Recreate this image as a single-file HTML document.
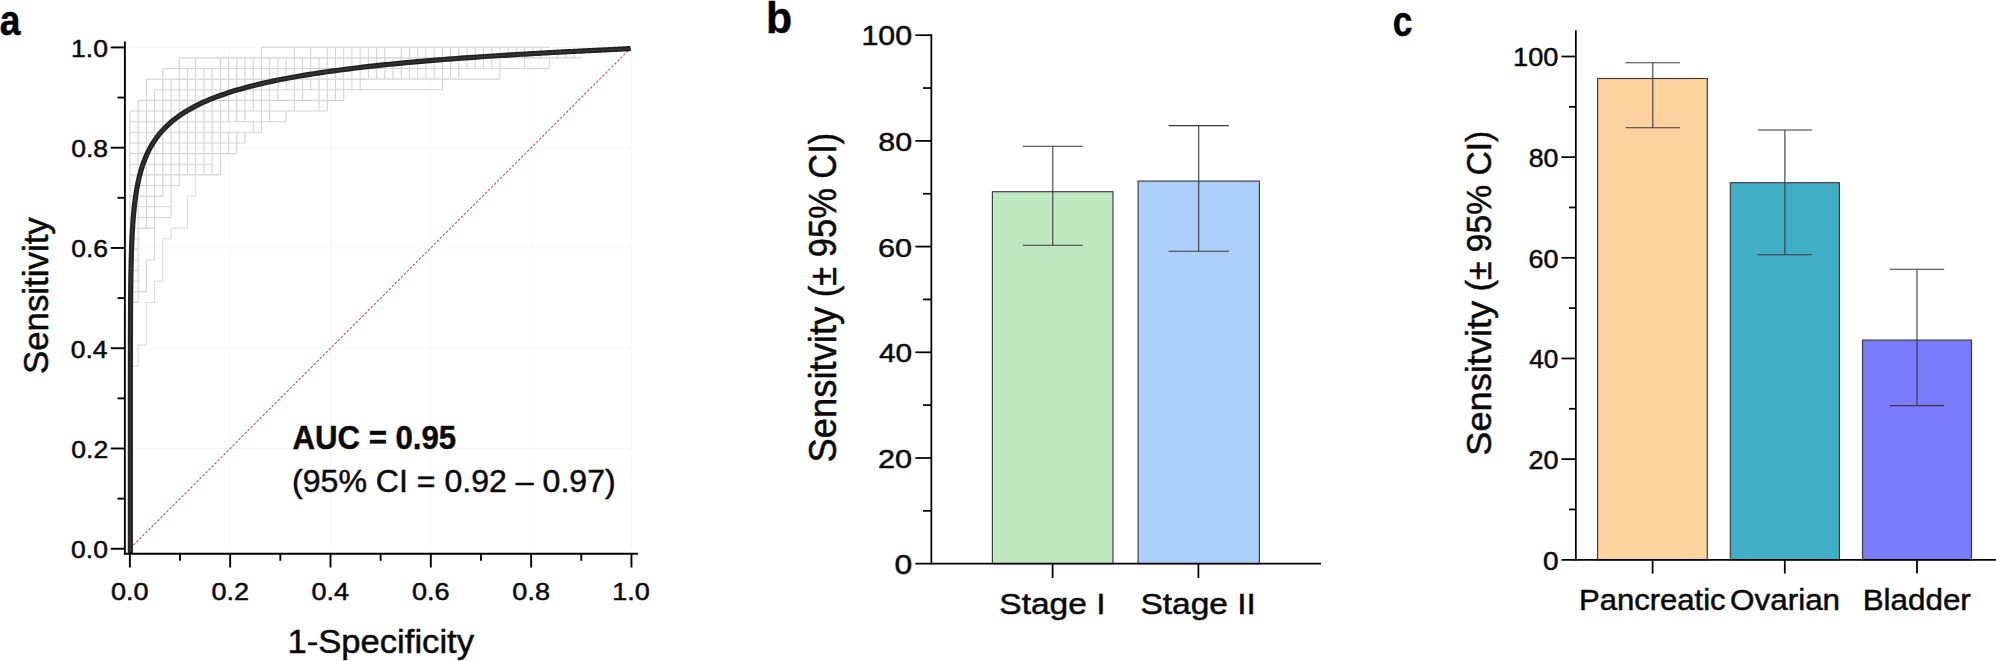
<!DOCTYPE html>
<html><head><meta charset="utf-8"><title>Figure</title>
<style>
html,body{margin:0;padding:0;background:#fff;}
body{width:1996px;height:661px;overflow:hidden;}
svg{display:block;font-family:"Liberation Sans",Arial,sans-serif;}
</style></head><body>
<svg width="1996" height="661" viewBox="0 0 1996 661">
<rect width="1996" height="661" fill="#fff"/>
<g stroke="#f7f7f7" stroke-width="1">
<line x1="230.17" y1="548.75" x2="230.17" y2="47.42" stroke="#f7f7f7" stroke-width="1" />
<line x1="129.85" y1="448.48" x2="631.45" y2="448.48" stroke="#f7f7f7" stroke-width="1" />
<line x1="330.49" y1="548.75" x2="330.49" y2="47.42" stroke="#f7f7f7" stroke-width="1" />
<line x1="129.85" y1="348.22" x2="631.45" y2="348.22" stroke="#f7f7f7" stroke-width="1" />
<line x1="430.81" y1="548.75" x2="430.81" y2="47.42" stroke="#f7f7f7" stroke-width="1" />
<line x1="129.85" y1="247.95" x2="631.45" y2="247.95" stroke="#f7f7f7" stroke-width="1" />
<line x1="531.13" y1="548.75" x2="531.13" y2="47.42" stroke="#f7f7f7" stroke-width="1" />
<line x1="129.85" y1="147.69" x2="631.45" y2="147.69" stroke="#f7f7f7" stroke-width="1" />
<line x1="631.45" y1="548.75" x2="631.45" y2="47.42" stroke="#f7f7f7" stroke-width="1" />
<line x1="129.85" y1="47.42" x2="631.45" y2="47.42" stroke="#f7f7f7" stroke-width="1" />
</g>
<path d="M129.90 547.28L129.90 366.40L138.12 366.40L138.12 345.12L146.35 345.12L146.35 302.56L154.57 302.56L154.57 281.28L162.79 281.28L162.79 238.72L171.02 238.72L171.02 228.08L187.46 228.08L187.46 196.16L195.68 196.16L195.68 174.88" fill="none" stroke="#dedede" stroke-width="1.1"/>
<path d="M261.47 47.20L549.27 47.20M179.24 57.84L582.17 57.84M162.79 68.48L549.27 68.48M146.35 79.12L499.94 79.12M154.57 89.76L442.37 89.76M138.12 100.40L343.70 100.40M129.90 111.04L327.25 111.04M129.90 121.68L286.14 121.68M129.90 132.32L261.47 132.32M129.90 142.96L245.02 142.96M129.90 153.60L236.80 153.60M129.90 164.24L212.13 164.24M129.90 174.88L220.35 174.88M129.90 185.52L179.24 185.52M129.90 196.16L162.79 196.16M129.90 206.80L171.02 206.80M129.90 217.44L171.02 217.44M129.90 228.08L154.57 228.08M129.90 238.72L138.12 238.72M129.90 249.36L138.12 249.36M129.90 260.00L138.12 260.00M146.35 260.00L154.57 260.00M129.90 270.64L138.12 270.64M129.90 281.28L138.12 281.28M129.90 291.92L146.35 291.92M129.90 302.56L138.12 302.56M129.90 111.04L129.90 547.28M138.12 100.40L138.12 302.56M146.35 79.12L146.35 228.08M146.35 260.00L146.35 291.92M154.57 89.76L154.57 260.00M162.79 68.48L162.79 196.16M171.02 79.12L171.02 217.44M179.24 57.84L179.24 185.52M187.46 68.48L187.46 174.88M195.68 57.84L195.68 174.88M203.91 68.48L203.91 174.88M212.13 68.48L212.13 174.88M220.35 57.84L220.35 174.88M228.58 57.84L228.58 121.68M228.58 132.32L228.58 153.60M236.80 57.84L236.80 121.68M236.80 132.32L236.80 153.60M245.02 57.84L245.02 121.68M245.02 132.32L245.02 142.96M253.25 57.84L253.25 111.04M253.25 121.68L253.25 132.32M261.47 47.20L261.47 132.32M269.69 57.84L269.69 121.68M277.91 57.84L277.91 100.40M286.14 57.84L286.14 89.76M286.14 111.04L286.14 121.68M294.36 47.20L294.36 111.04M302.58 57.84L302.58 100.40M310.81 47.20L310.81 89.76M319.03 57.84L319.03 111.04M327.25 47.20L327.25 111.04M335.48 47.20L335.48 100.40M343.70 47.20L343.70 100.40M351.92 47.20L351.92 89.76M360.14 47.20L360.14 89.76M368.37 47.20L368.37 79.12M376.59 47.20L376.59 79.12M384.81 47.20L384.81 79.12M393.04 57.84L393.04 79.12M401.26 47.20L401.26 79.12M409.48 47.20L409.48 79.12M417.71 47.20L417.71 79.12M425.93 47.20L425.93 79.12M434.15 47.20L434.15 79.12M442.37 47.20L442.37 89.76M450.60 47.20L450.60 79.12M458.82 47.20L458.82 79.12M467.04 47.20L467.04 68.48M475.27 47.20L475.27 68.48M483.49 47.20L483.49 68.48M491.71 47.20L491.71 68.48M499.94 47.20L499.94 79.12M508.16 47.20L508.16 57.84M516.38 47.20L516.38 57.84M524.60 47.20L524.60 68.48M532.83 47.20L532.83 57.84M541.05 47.20L541.05 57.84M549.27 57.84L549.27 68.48M557.50 47.20L557.50 57.84M565.72 47.20L565.72 57.84M573.94 47.20L573.94 57.84" fill="none" stroke="#d4d4d4" stroke-width="1.1"/>
<line x1="130.45" y1="548.15" x2="629.95" y2="48.92" stroke="#d2425f" stroke-width="1.05" stroke-dasharray="2.5 1.75"/>
<path d="M130.35 553.60L130.35 531.20L130.35 530.70L130.35 530.19L130.35 529.66L130.35 529.13L130.35 528.58L130.35 528.02L130.35 527.45L130.35 526.86L130.35 526.26L130.35 525.65L130.35 525.02L130.35 524.39L130.35 523.73L130.35 523.07L130.35 522.39L130.35 521.69L130.35 520.99L130.35 520.26L130.35 519.52L130.35 518.77L130.35 518.00L130.35 517.22L130.35 516.42L130.35 515.61L130.35 514.78L130.35 513.93L130.35 513.07L130.35 512.19L130.35 511.29L130.35 510.38L130.35 509.45L130.35 508.51L130.35 507.55L130.35 506.57L130.35 505.57L130.35 504.56L130.35 503.52L130.35 502.47L130.35 501.40L130.35 500.32L130.35 499.21L130.35 498.09L130.35 496.95L130.35 495.79L130.35 494.61L130.35 493.42L130.35 492.20L130.35 490.97L130.35 489.71L130.35 488.44L130.35 487.15L130.35 485.84L130.35 484.51L130.35 483.16L130.35 481.79L130.35 480.40L130.35 478.99L130.35 477.56L130.35 476.11L130.35 474.64L130.35 473.16L130.35 471.65L130.35 470.12L130.35 468.58L130.35 467.01L130.35 465.42L130.35 463.82L130.35 462.19L130.35 460.55L130.35 458.88L130.35 457.20L130.35 455.49L130.35 453.77L130.35 452.03L130.35 450.27L130.35 448.48L130.35 446.68L130.35 444.86L130.35 443.02L130.35 441.17L130.35 439.29L130.35 437.39L130.35 435.48L130.35 433.55L130.35 431.60L130.35 429.63L130.35 427.64L130.35 425.63L130.35 423.61L130.35 421.57L130.35 419.51L130.35 417.44L130.35 415.35L130.35 413.24L130.35 411.12L130.35 408.98L130.35 406.82L130.36 404.65L130.36 402.46L130.36 400.25L130.36 398.03L130.36 395.80L130.36 393.55L130.36 391.29L130.36 389.01L130.36 386.72L130.36 384.42L130.36 382.10L130.36 379.78L130.37 377.43L130.37 375.08L130.37 372.71L130.37 370.34L130.37 367.95L130.38 365.55L130.38 363.14L130.38 360.72L130.38 358.29L130.39 355.85L130.39 353.40L130.40 350.94L130.40 348.48L130.41 346.00L130.41 343.52L130.42 341.03L130.42 338.54L130.43 336.04L130.44 333.53L130.44 331.02L130.45 328.50L130.46 325.97L130.47 323.45L130.48 320.91L130.49 318.38L130.51 315.84L130.52 313.30L130.53 310.75L130.55 308.21L130.57 305.66L130.59 303.11L130.61 300.56L130.63 298.01L130.65 295.46L130.68 292.91L130.70 290.37L130.73 287.82L130.76 285.27L130.80 282.73L130.83 280.19L130.87 277.65L130.91 275.12L130.96 272.59L131.00 270.06L131.05 267.54L131.11 265.02L131.17 262.51L131.23 260.01L131.30 257.51L131.37 255.02L131.44 252.53L131.52 250.05L131.61 247.58L131.70 245.12L131.80 242.67L131.90 240.22L132.02 237.79L132.13 235.36L132.26 232.94L132.39 230.54L132.54 228.14L132.69 225.76L132.85 223.39L133.02 221.03L133.20 218.68L133.39 216.34L133.59 214.02L133.80 211.70L134.03 209.41L134.27 207.12L134.52 204.85L134.78 202.59L135.06 200.35L135.36 198.13L135.67 195.91L136.00 193.72L136.35 191.53L136.72 189.37L137.10 187.22L137.51 185.08L137.93 182.96L138.38 180.86L138.85 178.78L139.34 176.71L139.86 174.66L140.40 172.63L140.97 170.61L141.56 168.62L142.18 166.64L142.84 164.67L143.52 162.73L144.23 160.81L144.97 158.90L145.75 157.01L146.56 155.14L147.40 153.29L148.29 151.46L149.20 149.65L150.16 147.85L151.15 146.08L152.19 144.33L153.27 142.59L154.39 140.88L155.55 139.18L156.75 137.50L158.01 135.85L159.30 134.21L160.65 132.59L162.04 130.99L163.49 129.42L164.98 127.86L166.53 126.32L168.12 124.80L169.77 123.30L171.48 121.82L173.24 120.36L175.05 118.92L176.93 117.50L178.86 116.10L180.84 114.72L182.89 113.36L185.00 112.02L187.16 110.69L189.39 109.39L191.68 108.11L194.02 106.84L196.44 105.60L198.91 104.37L201.44 103.16L204.04 101.97L206.70 100.80L209.43 99.65L212.21 98.52L215.06 97.40L217.98 96.30L220.95 95.23L223.99 94.17L227.09 93.12L230.26 92.10L233.48 91.09L236.77 90.10L240.11 89.13L243.52 88.17L246.98 87.23L250.50 86.31L254.08 85.41L257.72 84.52L261.41 83.65L265.15 82.79L268.95 81.95L272.80 81.13L276.70 80.32L280.65 79.53L284.65 78.75L288.69 77.99L292.78 77.24L296.91 76.51L301.08 75.79L305.29 75.09L309.54 74.40L313.82 73.73L318.14 73.07L322.49 72.42L326.86 71.79L331.27 71.17L335.70 70.56L340.15 69.97L344.63 69.39L349.12 68.82L353.63 68.26L358.15 67.72L362.69 67.19L367.23 66.67L371.78 66.16L376.34 65.67L380.90 65.18L385.46 64.71L390.02 64.25L394.57 63.80L399.11 63.36L403.65 62.93L408.17 62.51L412.68 62.10L417.17 61.70L421.65 61.31L426.10 60.93L430.53 60.55L434.94 60.19L439.31 59.84L443.66 59.50L447.98 59.16L452.26 58.83L456.51 58.51L460.72 58.20L464.89 57.90L469.02 57.61L473.11 57.32L477.15 57.04L481.15 56.77L485.10 56.51L489.00 56.25L492.85 56.00L496.65 55.76L500.39 55.52L504.08 55.29L507.72 55.06L511.30 54.85L514.82 54.64L518.28 54.43L521.69 54.23L525.03 54.04L528.32 53.85L531.54 53.66L534.71 53.49L537.81 53.31L540.85 53.15L543.82 52.98L546.74 52.83L549.59 52.67L552.37 52.52L555.10 52.38L557.76 52.24L560.36 52.11L562.89 51.97L565.36 51.85L567.78 51.72L570.12 51.60L572.41 51.49L574.64 51.38L576.80 51.27L578.91 51.16L580.96 51.06L582.94 50.96L584.87 50.87L586.75 50.77L588.56 50.68L590.32 50.60L592.03 50.51L593.68 50.43L595.27 50.36L596.82 50.28L598.31 50.21L599.76 50.14L601.15 50.07L602.50 50.00L603.79 49.94L605.05 49.88L606.25 49.82L607.41 49.76L608.53 49.70L609.61 49.65L610.65 49.60L611.64 49.55L612.60 49.50L613.51 49.46L614.40 49.41L615.24 49.37L616.05 49.33L616.83 49.29L617.57 49.25L618.28 49.21L618.96 49.18L619.62 49.14L620.24 49.11L620.83 49.08L621.40 49.04L621.94 49.02L622.46 48.99L622.95 48.96L623.42 48.93L623.87 48.91L624.29 48.88L624.70 48.86L625.08 48.84L625.45 48.82L625.80 48.79L626.13 48.77L626.44 48.75L626.74 48.74L627.02 48.72L627.28 48.70L627.53 48.68L627.77 48.67L628.00 48.65L628.21 48.64L628.41 48.63L628.60 48.61L628.78 48.60L628.95 48.59L629.11 48.58L630.60 48.30" fill="none" stroke="#222" stroke-width="5.2" stroke-linejoin="round"/>
<path d="M130.35 553.60L130.35 531.20L130.35 530.70L130.35 530.19L130.35 529.66L130.35 529.13L130.35 528.58L130.35 528.02L130.35 527.45L130.35 526.86L130.35 526.26L130.35 525.65L130.35 525.02L130.35 524.39L130.35 523.73L130.35 523.07L130.35 522.39L130.35 521.69L130.35 520.99L130.35 520.26L130.35 519.52L130.35 518.77L130.35 518.00L130.35 517.22L130.35 516.42L130.35 515.61L130.35 514.78L130.35 513.93L130.35 513.07L130.35 512.19L130.35 511.29L130.35 510.38L130.35 509.45L130.35 508.51L130.35 507.55L130.35 506.57L130.35 505.57L130.35 504.56L130.35 503.52L130.35 502.47L130.35 501.40L130.35 500.32L130.35 499.21L130.35 498.09L130.35 496.95L130.35 495.79L130.35 494.61L130.35 493.42L130.35 492.20L130.35 490.97L130.35 489.71L130.35 488.44L130.35 487.15L130.35 485.84L130.35 484.51L130.35 483.16L130.35 481.79L130.35 480.40L130.35 478.99L130.35 477.56L130.35 476.11L130.35 474.64L130.35 473.16L130.35 471.65L130.35 470.12L130.35 468.58L130.35 467.01L130.35 465.42L130.35 463.82L130.35 462.19L130.35 460.55L130.35 458.88L130.35 457.20L130.35 455.49L130.35 453.77L130.35 452.03L130.35 450.27L130.35 448.48L130.35 446.68L130.35 444.86L130.35 443.02L130.35 441.17L130.35 439.29L130.35 437.39L130.35 435.48L130.35 433.55L130.35 431.60L130.35 429.63L130.35 427.64L130.35 425.63L130.35 423.61L130.35 421.57L130.35 419.51L130.35 417.44L130.35 415.35L130.35 413.24L130.35 411.12L130.35 408.98L130.35 406.82L130.36 404.65L130.36 402.46L130.36 400.25L130.36 398.03L130.36 395.80L130.36 393.55L130.36 391.29L130.36 389.01L130.36 386.72L130.36 384.42L130.36 382.10L130.36 379.78L130.37 377.43L130.37 375.08L130.37 372.71L130.37 370.34L130.37 367.95L130.38 365.55L130.38 363.14L130.38 360.72L130.38 358.29L130.39 355.85L130.39 353.40L130.40 350.94L130.40 348.48L130.41 346.00L130.41 343.52L130.42 341.03L130.42 338.54L130.43 336.04L130.44 333.53L130.44 331.02L130.45 328.50L130.46 325.97L130.47 323.45L130.48 320.91L130.49 318.38L130.51 315.84L130.52 313.30L130.53 310.75L130.55 308.21L130.57 305.66L130.59 303.11L130.61 300.56L130.63 298.01L130.65 295.46L130.68 292.91L130.70 290.37L130.73 287.82L130.76 285.27L130.80 282.73L130.83 280.19L130.87 277.65L130.91 275.12L130.96 272.59L131.00 270.06L131.05 267.54L131.11 265.02L131.17 262.51L131.23 260.01L131.30 257.51L131.37 255.02L131.44 252.53L131.52 250.05L131.61 247.58L131.70 245.12L131.80 242.67L131.90 240.22L132.02 237.79L132.13 235.36L132.26 232.94L132.39 230.54L132.54 228.14L132.69 225.76L132.85 223.39L133.02 221.03L133.20 218.68L133.39 216.34L133.59 214.02L133.80 211.70L134.03 209.41L134.27 207.12L134.52 204.85L134.78 202.59L135.06 200.35L135.36 198.13L135.67 195.91L136.00 193.72L136.35 191.53L136.72 189.37L137.10 187.22L137.51 185.08L137.93 182.96L138.38 180.86L138.85 178.78L139.34 176.71L139.86 174.66L140.40 172.63L140.97 170.61L141.56 168.62L142.18 166.64L142.84 164.67L143.52 162.73L144.23 160.81L144.97 158.90L145.75 157.01L146.56 155.14L147.40 153.29L148.29 151.46L149.20 149.65L150.16 147.85L151.15 146.08L152.19 144.33L153.27 142.59L154.39 140.88L155.55 139.18L156.75 137.50L158.01 135.85L159.30 134.21L160.65 132.59L162.04 130.99L163.49 129.42L164.98 127.86L166.53 126.32L168.12 124.80L169.77 123.30L171.48 121.82L173.24 120.36L175.05 118.92L176.93 117.50L178.86 116.10L180.84 114.72L182.89 113.36L185.00 112.02L187.16 110.69L189.39 109.39L191.68 108.11L194.02 106.84L196.44 105.60L198.91 104.37L201.44 103.16L204.04 101.97L206.70 100.80L209.43 99.65L212.21 98.52L215.06 97.40L217.98 96.30L220.95 95.23L223.99 94.17L227.09 93.12L230.26 92.10L233.48 91.09L236.77 90.10L240.11 89.13L243.52 88.17L246.98 87.23L250.50 86.31L254.08 85.41L257.72 84.52L261.41 83.65L265.15 82.79L268.95 81.95L272.80 81.13L276.70 80.32L280.65 79.53L284.65 78.75L288.69 77.99L292.78 77.24L296.91 76.51L301.08 75.79L305.29 75.09L309.54 74.40L313.82 73.73L318.14 73.07L322.49 72.42L326.86 71.79L331.27 71.17L335.70 70.56L340.15 69.97L344.63 69.39L349.12 68.82L353.63 68.26L358.15 67.72L362.69 67.19L367.23 66.67L371.78 66.16L376.34 65.67L380.90 65.18L385.46 64.71L390.02 64.25L394.57 63.80L399.11 63.36L403.65 62.93L408.17 62.51L412.68 62.10L417.17 61.70L421.65 61.31L426.10 60.93L430.53 60.55L434.94 60.19L439.31 59.84L443.66 59.50L447.98 59.16L452.26 58.83L456.51 58.51L460.72 58.20L464.89 57.90L469.02 57.61L473.11 57.32L477.15 57.04L481.15 56.77L485.10 56.51L489.00 56.25L492.85 56.00L496.65 55.76L500.39 55.52L504.08 55.29L507.72 55.06L511.30 54.85L514.82 54.64L518.28 54.43L521.69 54.23L525.03 54.04L528.32 53.85L531.54 53.66L534.71 53.49L537.81 53.31L540.85 53.15L543.82 52.98L546.74 52.83L549.59 52.67L552.37 52.52L555.10 52.38L557.76 52.24L560.36 52.11L562.89 51.97L565.36 51.85L567.78 51.72L570.12 51.60L572.41 51.49L574.64 51.38L576.80 51.27L578.91 51.16L580.96 51.06L582.94 50.96L584.87 50.87L586.75 50.77L588.56 50.68L590.32 50.60L592.03 50.51L593.68 50.43L595.27 50.36L596.82 50.28L598.31 50.21L599.76 50.14L601.15 50.07L602.50 50.00L603.79 49.94L605.05 49.88L606.25 49.82L607.41 49.76L608.53 49.70L609.61 49.65L610.65 49.60L611.64 49.55L612.60 49.50L613.51 49.46L614.40 49.41L615.24 49.37L616.05 49.33L616.83 49.29L617.57 49.25L618.28 49.21L618.96 49.18L619.62 49.14L620.24 49.11L620.83 49.08L621.40 49.04L621.94 49.02L622.46 48.99L622.95 48.96L623.42 48.93L623.87 48.91L624.29 48.88L624.70 48.86L625.08 48.84L625.45 48.82L625.80 48.79L626.13 48.77L626.44 48.75L626.74 48.74L627.02 48.72L627.28 48.70L627.53 48.68L627.77 48.67L628.00 48.65L628.21 48.64L628.41 48.63L628.60 48.61L628.78 48.60L628.95 48.59L629.11 48.58L630.60 48.30" fill="none" stroke="#363636" stroke-width="1.5" stroke-linejoin="round"/>
<line x1="124.87" y1="41.40" x2="124.87" y2="554.70" stroke="#000" stroke-width="1.9" />
<line x1="123.95" y1="553.72" x2="637.90" y2="553.72" stroke="#000" stroke-width="1.9" />
<line x1="110.80" y1="548.75" x2="124.87" y2="548.75" stroke="#000" stroke-width="1.9" />
<line x1="129.85" y1="553.72" x2="129.85" y2="567.50" stroke="#000" stroke-width="1.9" />
<line x1="117.50" y1="498.62" x2="124.87" y2="498.62" stroke="#000" stroke-width="1.9" />
<line x1="180.01" y1="553.72" x2="180.01" y2="560.80" stroke="#000" stroke-width="1.9" />
<line x1="110.80" y1="448.48" x2="124.87" y2="448.48" stroke="#000" stroke-width="1.9" />
<line x1="230.17" y1="553.72" x2="230.17" y2="567.50" stroke="#000" stroke-width="1.9" />
<line x1="117.50" y1="398.35" x2="124.87" y2="398.35" stroke="#000" stroke-width="1.9" />
<line x1="280.33" y1="553.72" x2="280.33" y2="560.80" stroke="#000" stroke-width="1.9" />
<line x1="110.80" y1="348.22" x2="124.87" y2="348.22" stroke="#000" stroke-width="1.9" />
<line x1="330.49" y1="553.72" x2="330.49" y2="567.50" stroke="#000" stroke-width="1.9" />
<line x1="117.50" y1="298.09" x2="124.87" y2="298.09" stroke="#000" stroke-width="1.9" />
<line x1="380.65" y1="553.72" x2="380.65" y2="560.80" stroke="#000" stroke-width="1.9" />
<line x1="110.80" y1="247.95" x2="124.87" y2="247.95" stroke="#000" stroke-width="1.9" />
<line x1="430.81" y1="553.72" x2="430.81" y2="567.50" stroke="#000" stroke-width="1.9" />
<line x1="117.50" y1="197.82" x2="124.87" y2="197.82" stroke="#000" stroke-width="1.9" />
<line x1="480.97" y1="553.72" x2="480.97" y2="560.80" stroke="#000" stroke-width="1.9" />
<line x1="110.80" y1="147.69" x2="124.87" y2="147.69" stroke="#000" stroke-width="1.9" />
<line x1="531.13" y1="553.72" x2="531.13" y2="567.50" stroke="#000" stroke-width="1.9" />
<line x1="117.50" y1="97.55" x2="124.87" y2="97.55" stroke="#000" stroke-width="1.9" />
<line x1="581.29" y1="553.72" x2="581.29" y2="560.80" stroke="#000" stroke-width="1.9" />
<line x1="110.80" y1="47.42" x2="124.87" y2="47.42" stroke="#000" stroke-width="1.9" />
<line x1="631.45" y1="553.72" x2="631.45" y2="567.50" stroke="#000" stroke-width="1.9" />
<text transform="translate(71.04 558.11) scale(1.0906 1)" font-size="24.31" stroke="#0a0a0a" stroke-width="0.5" fill="#0a0a0a">0.0</text>
<text transform="translate(111.02 599.56) scale(1.1257 1)" font-size="24.03" stroke="#0a0a0a" stroke-width="0.5" fill="#0a0a0a">0.0</text>
<text transform="translate(71.37 457.84) scale(1.0906 1)" font-size="24.31" stroke="#0a0a0a" stroke-width="0.5" fill="#0a0a0a">0.2</text>
<text transform="translate(211.51 599.56) scale(1.1257 1)" font-size="24.03" stroke="#0a0a0a" stroke-width="0.5" fill="#0a0a0a">0.2</text>
<text transform="translate(70.77 357.57) scale(1.0906 1)" font-size="24.31" stroke="#0a0a0a" stroke-width="0.5" fill="#0a0a0a">0.4</text>
<text transform="translate(311.52 599.56) scale(1.1257 1)" font-size="24.03" stroke="#0a0a0a" stroke-width="0.5" fill="#0a0a0a">0.4</text>
<text transform="translate(71.17 257.31) scale(1.0906 1)" font-size="24.31" stroke="#0a0a0a" stroke-width="0.5" fill="#0a0a0a">0.6</text>
<text transform="translate(412.05 599.56) scale(1.1257 1)" font-size="24.03" stroke="#0a0a0a" stroke-width="0.5" fill="#0a0a0a">0.6</text>
<text transform="translate(71.17 157.04) scale(1.0906 1)" font-size="24.31" stroke="#0a0a0a" stroke-width="0.5" fill="#0a0a0a">0.8</text>
<text transform="translate(512.37 599.56) scale(1.1257 1)" font-size="24.03" stroke="#0a0a0a" stroke-width="0.5" fill="#0a0a0a">0.8</text>
<text transform="translate(71.04 56.78) scale(1.0906 1)" font-size="24.31" stroke="#0a0a0a" stroke-width="0.5" fill="#0a0a0a">1.0</text>
<text transform="translate(612.14 599.56) scale(1.1257 1)" font-size="24.03" stroke="#0a0a0a" stroke-width="0.5" fill="#0a0a0a">1.0</text>
<text transform="translate(48.05 374.07) rotate(-90) scale(0.9945 1)" font-size="35.05" stroke="#0a0a0a" stroke-width="0.5" fill="#0a0a0a">Sensitivity</text>
<text transform="translate(287.40 653.40) scale(1.0308 1)" font-size="33.60" stroke="#0a0a0a" stroke-width="0.5" fill="#0a0a0a">1-Specificity</text>
<text transform="translate(292.42 448.77) scale(0.9418 1)" font-size="33.12" font-weight="bold" stroke="#0a0a0a" stroke-width="0.45" fill="#0a0a0a">AUC = 0.95</text>
<text transform="translate(292.09 492.38) scale(1.0035 1)" font-size="31.97" stroke="#0a0a0a" stroke-width="0.5" fill="#0a0a0a">(95% CI = 0.92 – 0.97)</text>
<text transform="translate(-0.32 34.77) scale(0.8663 1)" font-size="42.92" font-weight="bold" stroke="#000" stroke-width="0.45" fill="#000">a</text>
<rect x="992.40" y="191.70" width="120.60" height="372.00" fill="#bde8c0" stroke="#3a3a3a" stroke-width="1.15"/>
<rect x="1138.10" y="181.10" width="121.30" height="382.60" fill="#abcffa" stroke="#3a3a3a" stroke-width="1.15"/>
<line x1="1052.80" y1="146.30" x2="1052.80" y2="245.30" stroke="#3a3a3a" stroke-width="1.1" />
<line x1="1022.70" y1="146.30" x2="1082.90" y2="146.30" stroke="#3a3a3a" stroke-width="1.1" />
<line x1="1022.70" y1="245.30" x2="1082.90" y2="245.30" stroke="#3a3a3a" stroke-width="1.1" />
<line x1="1198.70" y1="125.60" x2="1198.70" y2="251.30" stroke="#3a3a3a" stroke-width="1.1" />
<line x1="1168.60" y1="125.60" x2="1228.80" y2="125.60" stroke="#3a3a3a" stroke-width="1.1" />
<line x1="1168.60" y1="251.30" x2="1228.80" y2="251.30" stroke="#3a3a3a" stroke-width="1.1" />
<line x1="931.35" y1="34.30" x2="931.35" y2="564.55" stroke="#000" stroke-width="1.75" />
<line x1="915.40" y1="563.70" x2="1321.00" y2="563.70" stroke="#000" stroke-width="1.75" />
<line x1="923.00" y1="510.85" x2="931.35" y2="510.85" stroke="#000" stroke-width="1.75" />
<line x1="915.40" y1="458.00" x2="931.35" y2="458.00" stroke="#000" stroke-width="1.75" />
<line x1="923.00" y1="405.15" x2="931.35" y2="405.15" stroke="#000" stroke-width="1.75" />
<line x1="915.40" y1="352.30" x2="931.35" y2="352.30" stroke="#000" stroke-width="1.75" />
<line x1="923.00" y1="299.45" x2="931.35" y2="299.45" stroke="#000" stroke-width="1.75" />
<line x1="915.40" y1="246.60" x2="931.35" y2="246.60" stroke="#000" stroke-width="1.75" />
<line x1="923.00" y1="193.75" x2="931.35" y2="193.75" stroke="#000" stroke-width="1.75" />
<line x1="915.40" y1="140.90" x2="931.35" y2="140.90" stroke="#000" stroke-width="1.75" />
<line x1="923.00" y1="88.05" x2="931.35" y2="88.05" stroke="#000" stroke-width="1.75" />
<line x1="915.40" y1="35.20" x2="931.35" y2="35.20" stroke="#000" stroke-width="1.75" />
<line x1="1052.60" y1="563.70" x2="1052.60" y2="578.00" stroke="#000" stroke-width="1.75" />
<line x1="1198.40" y1="563.70" x2="1198.40" y2="578.00" stroke="#000" stroke-width="1.75" />
<text transform="translate(894.43 573.68) scale(1.1916 1)" font-size="26.71" stroke="#0a0a0a" stroke-width="0.5" fill="#0a0a0a">0</text>
<text transform="translate(878.07 467.98) scale(1.1459 1)" font-size="26.71" stroke="#0a0a0a" stroke-width="0.5" fill="#0a0a0a">20</text>
<text transform="translate(878.93 362.28) scale(1.1159 1)" font-size="26.71" stroke="#0a0a0a" stroke-width="0.5" fill="#0a0a0a">40</text>
<text transform="translate(878.07 256.58) scale(1.1459 1)" font-size="26.71" stroke="#0a0a0a" stroke-width="0.5" fill="#0a0a0a">60</text>
<text transform="translate(878.31 150.88) scale(1.1376 1)" font-size="26.71" stroke="#0a0a0a" stroke-width="0.5" fill="#0a0a0a">80</text>
<text transform="translate(861.42 45.18) scale(1.1363 1)" font-size="26.71" stroke="#0a0a0a" stroke-width="0.5" fill="#0a0a0a">100</text>
<text transform="translate(836.01 462.54) rotate(-90) scale(0.9336 1)" font-size="39.01" stroke="#0a0a0a" stroke-width="0.5" fill="#0a0a0a">Sensitvity</text>
<text transform="translate(836.01 297.15) rotate(-90) scale(0.8836 1)" font-size="39.01" stroke="#0a0a0a" stroke-width="0.5" fill="#0a0a0a">(± 95% CI)</text>
<text transform="translate(999.29 614.00) scale(1.1137 1)" font-size="30.11" stroke="#0a0a0a" stroke-width="0.5" fill="#0a0a0a">Stage I</text>
<text transform="translate(1140.39 614.00) scale(1.1128 1)" font-size="30.11" stroke="#0a0a0a" stroke-width="0.5" fill="#0a0a0a">Stage II</text>
<text transform="translate(765.92 32.86) scale(0.9673 1)" font-size="44.22" font-weight="bold" stroke="#000" stroke-width="0.45" fill="#000">b</text>
<rect x="1597.60" y="78.50" width="109.70" height="481.26" fill="#ffd39f" stroke="#3a3a3a" stroke-width="1.15"/>
<rect x="1730.30" y="182.70" width="109.10" height="377.06" fill="#40afc5" stroke="#3a3a3a" stroke-width="1.15"/>
<rect x="1862.50" y="340.10" width="109.00" height="219.66" fill="#7b7bfd" stroke="#3a3a3a" stroke-width="1.15"/>
<line x1="1652.80" y1="62.80" x2="1652.80" y2="127.80" stroke="#3a3a3a" stroke-width="1.1" />
<line x1="1625.60" y1="62.80" x2="1680.00" y2="62.80" stroke="#3a3a3a" stroke-width="1.1" />
<line x1="1625.60" y1="127.80" x2="1680.00" y2="127.80" stroke="#3a3a3a" stroke-width="1.1" />
<line x1="1784.90" y1="130.00" x2="1784.90" y2="254.70" stroke="#3a3a3a" stroke-width="1.1" />
<line x1="1757.70" y1="130.00" x2="1812.10" y2="130.00" stroke="#3a3a3a" stroke-width="1.1" />
<line x1="1757.70" y1="254.70" x2="1812.10" y2="254.70" stroke="#3a3a3a" stroke-width="1.1" />
<line x1="1917.00" y1="269.20" x2="1917.00" y2="405.60" stroke="#3a3a3a" stroke-width="1.1" />
<line x1="1889.80" y1="269.20" x2="1944.20" y2="269.20" stroke="#3a3a3a" stroke-width="1.1" />
<line x1="1889.80" y1="405.60" x2="1944.20" y2="405.60" stroke="#3a3a3a" stroke-width="1.1" />
<line x1="1575.85" y1="30.20" x2="1575.85" y2="560.60" stroke="#000" stroke-width="1.75" />
<line x1="1561.45" y1="559.76" x2="1996.00" y2="559.76" stroke="#000" stroke-width="1.75" />
<line x1="1569.00" y1="509.43" x2="1575.85" y2="509.43" stroke="#000" stroke-width="1.75" />
<line x1="1561.45" y1="459.11" x2="1575.85" y2="459.11" stroke="#000" stroke-width="1.75" />
<line x1="1569.00" y1="408.78" x2="1575.85" y2="408.78" stroke="#000" stroke-width="1.75" />
<line x1="1561.45" y1="358.46" x2="1575.85" y2="358.46" stroke="#000" stroke-width="1.75" />
<line x1="1569.00" y1="308.13" x2="1575.85" y2="308.13" stroke="#000" stroke-width="1.75" />
<line x1="1561.45" y1="257.80" x2="1575.85" y2="257.80" stroke="#000" stroke-width="1.75" />
<line x1="1569.00" y1="207.48" x2="1575.85" y2="207.48" stroke="#000" stroke-width="1.75" />
<line x1="1561.45" y1="157.15" x2="1575.85" y2="157.15" stroke="#000" stroke-width="1.75" />
<line x1="1569.00" y1="106.83" x2="1575.85" y2="106.83" stroke="#000" stroke-width="1.75" />
<line x1="1561.45" y1="56.50" x2="1575.85" y2="56.50" stroke="#000" stroke-width="1.75" />
<line x1="1652.60" y1="559.76" x2="1652.60" y2="573.60" stroke="#000" stroke-width="1.75" />
<line x1="1784.80" y1="559.76" x2="1784.80" y2="573.60" stroke="#000" stroke-width="1.75" />
<line x1="1917.00" y1="559.76" x2="1917.00" y2="573.60" stroke="#000" stroke-width="1.75" />
<text transform="translate(1542.88 569.64) scale(1.0561 1)" font-size="26.57" stroke="#0a0a0a" stroke-width="0.5" fill="#0a0a0a">0</text>
<text transform="translate(1528.45 468.99) scale(1.0158 1)" font-size="26.57" stroke="#0a0a0a" stroke-width="0.5" fill="#0a0a0a">20</text>
<text transform="translate(1529.21 368.34) scale(0.9892 1)" font-size="26.57" stroke="#0a0a0a" stroke-width="0.5" fill="#0a0a0a">40</text>
<text transform="translate(1528.45 267.69) scale(1.0158 1)" font-size="26.57" stroke="#0a0a0a" stroke-width="0.5" fill="#0a0a0a">60</text>
<text transform="translate(1528.66 167.04) scale(1.0084 1)" font-size="26.57" stroke="#0a0a0a" stroke-width="0.5" fill="#0a0a0a">80</text>
<text transform="translate(1513.06 66.38) scale(1.0237 1)" font-size="26.57" stroke="#0a0a0a" stroke-width="0.5" fill="#0a0a0a">100</text>
<text transform="translate(1491.15 455.63) rotate(-90) scale(1.0281 1)" font-size="35.19" stroke="#0a0a0a" stroke-width="0.5" fill="#0a0a0a">Sensitvity</text>
<text transform="translate(1491.15 291.15) rotate(-90) scale(0.9559 1)" font-size="35.19" stroke="#0a0a0a" stroke-width="0.5" fill="#0a0a0a">(± 95% CI)</text>
<text transform="translate(1578.94 610.20) scale(1.0575 1)" font-size="29.38" stroke="#0a0a0a" stroke-width="0.5" fill="#0a0a0a">Pancreatic</text>
<text transform="translate(1730.11 610.20) scale(1.0690 1)" font-size="29.38" stroke="#0a0a0a" stroke-width="0.5" fill="#0a0a0a">Ovarian</text>
<text transform="translate(1862.71 610.20) scale(1.0678 1)" font-size="29.38" stroke="#0a0a0a" stroke-width="0.5" fill="#0a0a0a">Bladder</text>
<text transform="translate(1392.79 35.57) scale(0.8220 1)" font-size="42.92" font-weight="bold" stroke="#000" stroke-width="0.45" fill="#000">c</text>
</svg>
</body></html>
